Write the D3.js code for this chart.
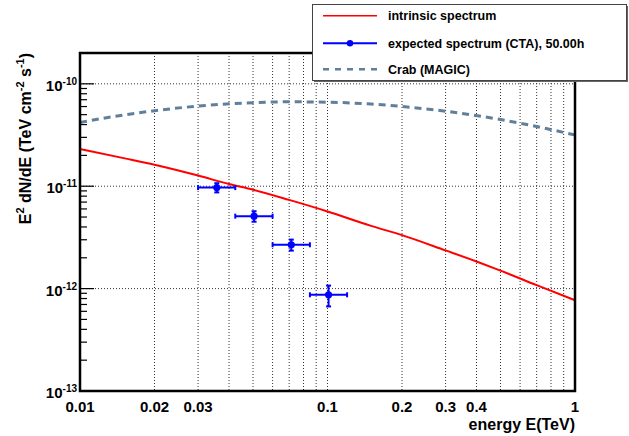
<!DOCTYPE html>
<html><head><meta charset="utf-8">
<script src="https://cdn.jsdelivr.net/npm/d3@7"></script>
<style>body{margin:0;background:#fff}svg{display:block}text{font-family:"Liberation Sans",Arial,sans-serif;font-weight:bold;fill:#000}</style>
</head><body><svg id="c" width="629" height="436"></svg>
<script>
// ---- data ----
const intrinsicE = [0.01, 0.015, 0.02, 0.03, 0.04, 0.05, 0.07, 0.1, 0.15, 0.2, 0.3, 0.4, 0.5, 0.7, 1];
const intrinsicF = [2.31e-11, 1.88e-11, 1.62e-11, 1.27e-11, 1.05e-11, 9.25e-12, 7.35e-12, 5.67e-12, 4.1e-12, 3.33e-12, 2.36e-12, 1.84e-12, 1.5e-12, 1.08e-12, 7.7e-13];
const crabE = [0.01, 0.015, 0.02, 0.03, 0.05, 0.07, 0.1, 0.15, 0.2, 0.3, 0.5, 0.7, 1];
const crabF = [4.20e-11, 4.96e-11, 5.46e-11, 6.06e-11, 6.55e-11, 6.67e-11, 6.62e-11, 6.34e-11, 6.01e-11, 5.40e-11, 4.48e-11, 3.83e-11, 3.16e-11];
const ptE = [0.0357, 0.0505, 0.0714, 0.101];
const ptElow = [0.03, 0.0424, 0.06, 0.0849];
const ptEhigh = [0.0424, 0.06, 0.0849, 0.12];
const ptF = [9.7e-12, 5.1e-12, 2.68e-12, 8.7e-13];
const ptErr = [1.0e-12, 0.6e-12, 0.33e-12, 2.0e-13];
const xTickLabels = [0.01, 0.02, 0.03, 0.1, 0.2, 0.3, 0.4, 1];
const xGrid = [0.02,0.03,0.04,0.05,0.06,0.07,0.08,0.09,0.1,0.2,0.3,0.4,0.5,0.6,0.7,0.8,0.9];
const yDecades = [-13, -12, -11, -10];
const legendLabels = ["intrinsic spectrum", "expected spectrum (CTA), 50.00h", "Crab (MAGIC)"];

// ---- layout ----
const L = 80, R = 575, T = 53, B = 391;
const svg = d3.select("#c");
const x = d3.scaleLog().domain([0.01, 1]).range([L, R]);
const y = d3.scaleLog().domain([1e-13, 2e-10]).range([B, T]);

// grid
const g = svg.append("g");
g.selectAll("line.vg").data(xGrid).join("line")
  .attr("x1", d => x(d)).attr("x2", d => x(d)).attr("y1", T).attr("y2", B)
  .attr("stroke", "#333").attr("stroke-width", 1).attr("stroke-dasharray", "1,2");
g.selectAll("line.hg").data([-12, -11, -10]).join("line")
  .attr("x1", L).attr("x2", R).attr("y1", d => y(Math.pow(10, d))).attr("y2", d => y(Math.pow(10, d)))
  .attr("stroke", "#333").attr("stroke-width", 1).attr("stroke-dasharray", "1,2");

// y ticks
const yMinor = [];
for (let e = -13; e <= -10; e++) for (let m = 2; m <= 9; m++) { const v = m * Math.pow(10, e); if (v <= 2e-10) yMinor.push(v); }
svg.selectAll("line.ymin").data(yMinor).join("line")
  .attr("x1", L).attr("x2", L + 7).attr("y1", d => y(d)).attr("y2", d => y(d))
  .attr("stroke", "#000").attr("stroke-width", 1.2);
svg.selectAll("line.ymaj").data(yDecades).join("line")
  .attr("x1", L).attr("x2", L + 14).attr("y1", d => y(Math.pow(10, d))).attr("y2", d => y(Math.pow(10, d)))
  .attr("stroke", "#000").attr("stroke-width", 1.2);

// y labels
const yl = svg.selectAll("text.yl").data(yDecades).join("text")
  .attr("x", 77).attr("y", d => y(Math.pow(10, d)) + 7).attr("text-anchor", "end").attr("font-size", 15);
yl.append("tspan").text("10");
yl.append("tspan").attr("font-size", 10).attr("dy", -6).text(d => String(d));

// x labels
svg.selectAll("text.xl").data(xTickLabels).join("text")
  .attr("x", d => x(d)).attr("y", 412).attr("text-anchor", "middle").attr("font-size", 15)
  .text(d => String(d));

// curves
const line = d3.line().curve(d3.curveMonotoneX);
svg.append("path").attr("d", line(intrinsicE.map((e, i) => [x(e), y(intrinsicF[i])])))
  .attr("fill", "none").attr("stroke", "#ff0000").attr("stroke-width", 2);
svg.append("path").attr("d", line(crabE.map((e, i) => [x(e), y(crabF[i])])))
  .attr("fill", "none").attr("stroke", "#607f9a").attr("stroke-width", 3).attr("stroke-dasharray", "7,5");

// points with errors
const pg = svg.append("g").attr("stroke", "#0000ff").attr("stroke-width", 2);
ptE.forEach((e, i) => {
  const cx = x(e), cy = y(ptF[i]);
  const x0 = x(ptElow[i]), x1 = x(ptEhigh[i]);
  const yt = y(ptF[i] + ptErr[i]), yb = y(ptF[i] - ptErr[i]);
  pg.append("line").attr("x1", x0).attr("x2", x1).attr("y1", cy).attr("y2", cy);
  pg.append("line").attr("x1", x0).attr("x2", x0).attr("y1", cy - 2.5).attr("y2", cy + 2.5);
  pg.append("line").attr("x1", x1).attr("x2", x1).attr("y1", cy - 2.5).attr("y2", cy + 2.5);
  pg.append("line").attr("x1", cx).attr("x2", cx).attr("y1", yt).attr("y2", yb);
  pg.append("line").attr("x1", cx - 2.5).attr("x2", cx + 2.5).attr("y1", yt).attr("y2", yt);
  pg.append("line").attr("x1", cx - 2.5).attr("x2", cx + 2.5).attr("y1", yb).attr("y2", yb);
  pg.append("circle").attr("cx", cx).attr("cy", cy).attr("r", 3.6).attr("fill", "#0000ff").attr("stroke", "none");
});

// frame
svg.append("rect").attr("x", L).attr("y", T).attr("width", R - L).attr("height", B - T)
  .attr("fill", "none").attr("stroke", "#000").attr("stroke-width", 2.5);

// axis titles
svg.append("text").attr("x", R).attr("y", 430).attr("text-anchor", "end").attr("font-size", 16).text("energy E(TeV)");
const yt = svg.append("text").attr("transform", "translate(31,53) rotate(-90)").attr("text-anchor", "end").attr("font-size", 16);
yt.append("tspan").text("E");
yt.append("tspan").attr("font-size", 11).attr("dy", -7).text("2");
yt.append("tspan").attr("dy", 7).text(" dN/dE (TeV cm");
yt.append("tspan").attr("font-size", 11).attr("dy", -7).text("-2");
yt.append("tspan").attr("dy", 7).text(" s");
yt.append("tspan").attr("font-size", 11).attr("dy", -7).text("-1");
yt.append("tspan").attr("dy", 7).text(")");

// legend
const lg = svg.append("g");
lg.append("rect").attr("x", 314).attr("y", 6).attr("width", 314).attr("height", 76).attr("fill", "#666");
lg.append("rect").attr("x", 312.5).attr("y", 4.5).attr("width", 314).attr("height", 76)
  .attr("fill", "#fff").attr("stroke", "#444").attr("stroke-width", 1);
const rows = [15.7, 43.3, 69.3];
lg.append("line").attr("x1", 323).attr("x2", 377).attr("y1", rows[0]).attr("y2", rows[0]).attr("stroke", "#ff0000").attr("stroke-width", 1.5);
lg.append("line").attr("x1", 323).attr("x2", 377).attr("y1", rows[1]).attr("y2", rows[1]).attr("stroke", "#0000ff").attr("stroke-width", 2);
lg.append("circle").attr("cx", 350).attr("cy", rows[1]).attr("r", 3.2).attr("fill", "#0000ff");
lg.append("line").attr("x1", 323).attr("x2", 377).attr("y1", rows[2]).attr("y2", rows[2]).attr("stroke", "#607f9a").attr("stroke-width", 2.5).attr("stroke-dasharray", "6,6");
lg.selectAll("text.lt").data(legendLabels).join("text")
  .attr("x", 388).attr("y", (d, i) => rows[i] + 4.5).attr("font-size", 12.5).text(d => d);
</script></body></html>
